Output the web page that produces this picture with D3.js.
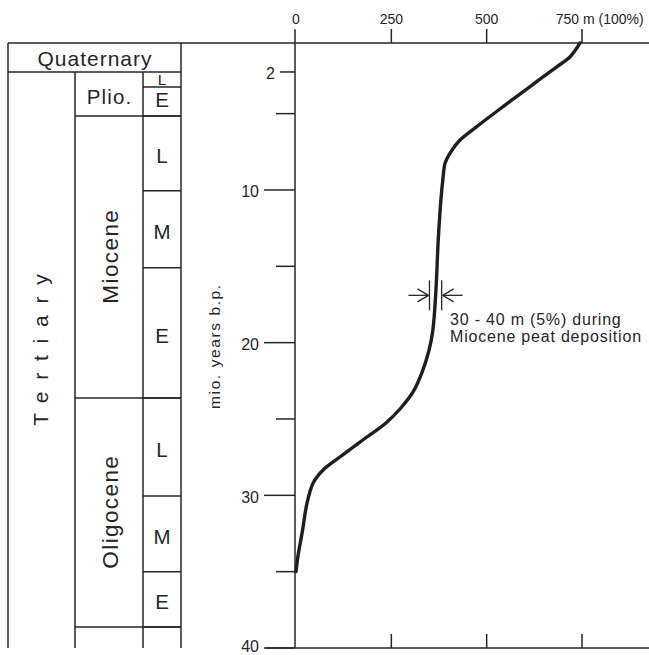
<!DOCTYPE html>
<meta charset='utf-8'>
<style type="text/css">
  body { margin: 0; background: #fff; }
  svg { display: block; }
  text { font-family: "Liberation Sans", Arial, sans-serif; fill: #262626; }
</style>
<body>
<div class="chart"></div>
<script src="https://d3js.org/d3.v7.min.js"></script>
<script>

// subsidence curve (metres, million years b.p.)
var depthM = [745, 719, 684, 613, 543, 474, 430, 404, 391, 385, 380, 373, 367, 359, 349, 330, 307, 275, 236, 186, 115, 71, 45, 29, 16, 5, 0];
var ageMa  = [0.37, 1.27, 1.93, 3.24, 4.54, 5.85, 6.73, 7.58, 8.23, 9.35, 10.65, 13.27, 16.55, 19.17, 20.48, 21.98, 23.23, 24.28, 25.26, 26.18, 27.49, 28.34, 29.19, 30.5, 32.46, 34.0, 35];

// axes
var xTicks = [0, 250, 500, 750];
var xTickLabels = ['0', '250', '500', '750'];
var yTicks = [2.27, 5, 10, 15, 20, 25, 30, 35, 40];
var yTickLabels = ['2', '', '10', '', '20', '', '30', '', '40'];
var ageTop = 0.37;

// stratigraphic column
var periodNames = ['Quaternary', 'Tertiary'];
var periodTops = [0.37, 2.27];
var periodBottoms = [2.27, 40];
var epochNames = ['Plio.', 'Miocene', 'Oligocene', ''];
var epochTops = [2.27, 5.15, 23.62, 38.62];
var epochBottoms = [5.15, 23.62, 38.62, 40];
var stageNames = ['L', 'E', 'L', 'M', 'E', 'L', 'M', 'E', ''];
var stageTops = [2.27, 3.25, 5.15, 10.05, 15.09, 23.62, 30.04, 35.0, 38.62];
var stageBottoms = [3.25, 5.15, 10.05, 15.09, 23.62, 30.04, 35.0, 38.62, 40];

// annotation: 30 - 40 m spread
var spreadM = [350, 382];
var spreadAge = 16.9;

var W = 649, H = 655;
var svg = d3.select('.chart').append('svg')
  .attr('width', W)
  .attr('height', H);

var x = d3.scaleLinear().domain([0, 750]).range([296, 582]);
var y = d3.scaleLinear().domain([0, 40]).range([37.3, 648]);

var ink = '#262626';
var colL = 8, colE = 75, colS = 143, colR = 181;
var yTop = y(ageTop), yBot = y(40);

function line(x1, y1, x2, y2, w) {
  svg.append('line')
    .attr('x1', x1).attr('y1', y1).attr('x2', x2).attr('y2', y2)
    .attr('stroke', ink).attr('stroke-width', w || 1.5);
}

// ---- stratigraphic table ----
line(colL, yTop, W, yTop);            // top line runs into the x axis
line(colL, yTop, colL, yBot);
line(colR, yTop, colR, yBot);
line(colE, y(periodBottoms[0]), colE, yBot);
line(colS, y(periodBottoms[0]), colS, yBot);
line(colL, y(periodBottoms[0]), colR, y(periodBottoms[0]));

epochBottoms.forEach(function(b) {
  if (b < 40) line(colE, y(b), colR, y(b));
});
stageBottoms.forEach(function(b) {
  if (b < 40) line(colS, y(b), colR, y(b));
});

// Quaternary
svg.append('text')
  .attr('x', (colL + colR) / 2 + 0.5)
  .attr('y', (y(periodTops[0]) + y(periodBottoms[0])) / 2 + 9)
  .attr('text-anchor', 'middle')
  .attr('font-size', 21)
  .attr('letter-spacing', 1.0)
  .text(periodNames[0]);

// Tertiary, spaced out vertically
svg.append('text')
  .attr('transform', 'translate(48,' + 350 + ') rotate(-90)')
  .attr('x', 6)
  .attr('text-anchor', 'middle')
  .attr('font-size', 21)
  .attr('letter-spacing', 11.8)
  .text(periodNames[1]);

// epochs
epochNames.forEach(function(name, i) {
  if (!name) return;
  var cy = (y(epochTops[i]) + y(epochBottoms[i])) / 2;
  var cx = (colE + colS) / 2;
  if (i === 0) {
    svg.append('text')
      .attr('x', cx + 0.6).attr('y', cy + 10)
      .attr('text-anchor', 'middle')
      .attr('font-size', 20.5)
      .attr('letter-spacing', 1.2)
      .text(name);
  } else {
    svg.append('text')
      .attr('transform', 'translate(118,' + cy + ') rotate(-90)')
      .attr('x', 0.7)
      .attr('text-anchor', 'middle')
      .attr('font-size', 22.5)
      .attr('letter-spacing', 1.4)
      .text(name);
  }
});

// stages
stageNames.forEach(function(name, i) {
  if (!name) return;
  var small = (i === 0);
  var cy = (y(stageTops[i]) + y(stageBottoms[i])) / 2;
  var off = small ? 5.5 : (i === 1 ? 6 : 9.8);
  svg.append('text')
    .attr('x', (colS + colR) / 2)
    .attr('y', cy + off)
    .attr('text-anchor', 'middle')
    .attr('font-size', small ? 15.5 : 20.5)
    .text(name);
});

// ---- y axis ----
line(x(0) - 1, y(0) - 8, x(0) - 1, yBot);
yTicks.forEach(function(t, i) {
  var lab = yTickLabels[i];
  var len = lab ? (lab === '2' ? 15 : 31) : 19;
  line(x(0) - 1 - len, y(t), x(0) - 1, y(t));
  if (lab) {
    svg.append('text')
      .attr('x', x(0) - 1 - len - 5)
      .attr('y', Math.min(y(t) + 7.5, 652))
      .attr('text-anchor', 'end')
      .attr('font-size', 16)
      .text(lab);
  }
});

svg.append('text')
  .attr('transform', 'translate(220,' + 347 + ') rotate(-90)')
  .attr('x', 0.9)
  .attr('text-anchor', 'middle')
  .attr('font-size', 15.5)
  .attr('letter-spacing', 1.6)
  .text('mio. years b.p.');

// ---- top x axis ----
xTicks.forEach(function(t, i) {
  if (t > 0) line(x(t), yTop - 14, x(t), yTop);
  var lbl = svg.append('text')
    .attr('y', 24)
    .attr('font-size', 14);
  if (t === 750) {
    lbl.attr('x', x(t) - 3).attr('text-anchor', 'end').text(xTickLabels[i]);
    svg.append('text')
      .attr('x', x(t) + 1).attr('y', 24)
      .attr('font-size', 14)
      .text('m (100%)');
  } else {
    lbl.attr('x', x(t)).attr('text-anchor', 'middle').text(xTickLabels[i]);
  }
});

// ---- bottom x axis ----
line(x(0) - 31, yBot, W, yBot);
xTicks.forEach(function(t) {
  if (t > 0) line(x(t), yBot - 14, x(t), yBot);
});

// ---- subsidence curve ----
var pts = depthM.map(function(d, i) { return [d, ageMa[i]]; });
var curve = d3.line()
  .x(function(d) { return x(d[0]); })
  .y(function(d) { return y(d[1]); })
  .curve(d3.curveCatmullRom.alpha(0.5));

svg.append('path')
  .datum(pts)
  .attr('d', curve)
  .attr('fill', 'none')
  .attr('stroke', '#1e1e1e')
  .attr('stroke-width', 3.4)
  .attr('stroke-linecap', 'round');

// ---- annotation ----
var ay = y(spreadAge);
var xa = x(spreadM[0]), xb = x(spreadM[1]);
line(xa, ay - 15, xa, ay + 15, 1.3);
line(xb, ay - 15, xb, ay + 15, 1.3);
// left arrow pointing right
line(xa - 21, ay, xa - 1, ay, 1.3);
line(xa - 12, ay - 6.5, xa - 1, ay, 1.3);
line(xa - 12, ay + 6.5, xa - 1, ay, 1.3);
// right arrow pointing left
line(xb + 21, ay, xb + 1, ay, 1.3);
line(xb + 12, ay - 6.5, xb + 1, ay, 1.3);
line(xb + 12, ay + 6.5, xb + 1, ay, 1.3);

var note = svg.append('text')
  .attr('x', 450)
  .attr('y', 325)
  .attr('font-size', 16)
  .attr('letter-spacing', 0.8);
note.append('tspan').attr('x', 450).text('30 - 40 m (5%) during');
note.append('tspan').attr('x', 450).attr('dy', 16.5).text('Miocene peat deposition');

</script>
</body>
</html>
